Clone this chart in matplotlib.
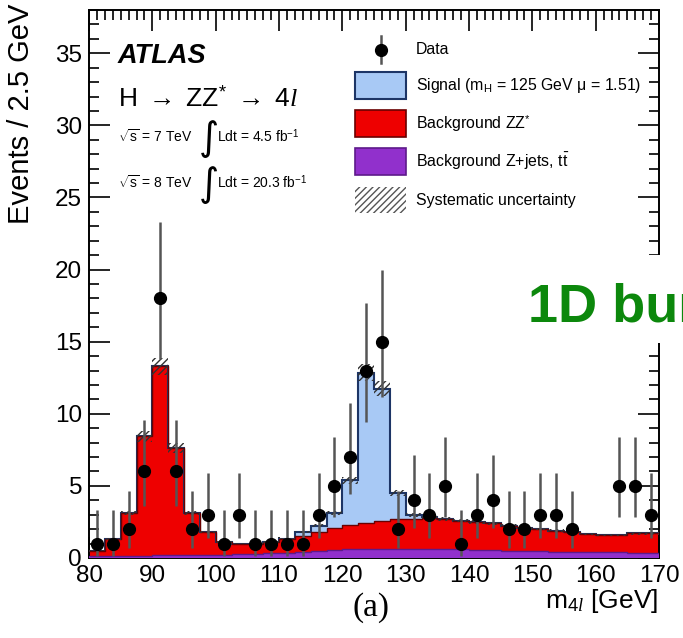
import math
import numpy as np
import matplotlib
matplotlib.use("Agg")
import matplotlib.pyplot as plt
from matplotlib.patches import Rectangle
from matplotlib.lines import Line2D
from matplotlib.ticker import MultipleLocator

plt.rcParams['font.family'] = ['Liberation Sans', 'DejaVu Sans']
plt.rcParams['mathtext.fontset'] = 'custom'
plt.rcParams['mathtext.rm'] = 'Liberation Sans'
plt.rcParams['mathtext.it'] = 'Liberation Serif:italic'
plt.rcParams['mathtext.bf'] = 'Liberation Sans:bold'
plt.rcParams['hatch.linewidth'] = 1.0

W, H = 683, 638

# ---- binning: 2.5 GeV bins from 80 to 170 GeV ----
bin_edges = np.arange(80.0, 170.0 + 1e-9, 2.5)

# observed events per bin
data_counts = [1, 1, 2, 6, 18, 6, 2, 3, 1, 3, 1, 1, 1, 1, 3, 5, 7, 13,
               15, 2, 4, 3, 5, 1, 3, 4, 2, 2, 3, 3, 2, 0, 0, 5, 5, 3]

# expected Z+jets / ttbar background
bkg_zjets = [0.15, 0.15, 0.15, 0.17, 0.18, 0.18, 0.18, 0.20, 0.22, 0.25,
             0.28, 0.32, 0.38, 0.45, 0.52, 0.57, 0.60, 0.62, 0.63, 0.63,
             0.63, 0.62, 0.62, 0.60, 0.58, 0.55, 0.52, 0.50, 0.48, 0.45,
             0.43, 0.42, 0.40, 0.40, 0.38, 0.37]

# expected ZZ* background
bkg_zz = [0.35, 1.15, 2.95, 8.28, 13.12, 7.42, 2.92, 1.60, 0.88, 0.75,
          0.72, 0.78, 0.92, 1.10, 1.28, 1.48, 1.70, 1.83, 1.97, 2.07,
          2.07, 2.13, 2.08, 2.00, 1.92, 1.85, 1.73, 1.60, 1.52, 1.45,
          1.37, 1.23, 1.20, 1.20, 1.32, 1.33]

# expected Higgs signal, m_H = 125 GeV, mu = 1.51
signal = [0, 0, 0, 0, 0, 0, 0, 0, 0, 0,
          0, 0, 0.05, 0.25, 0.45, 1.10, 3.10, 10.40, 9.15, 1.80,
          0.30, 0.10, 0.02, 0, 0, 0, 0, 0, 0, 0,
          0, 0, 0, 0, 0, 0]

syst_frac = 0.045

C_SIG, C_SIG_EDGE = '#a8c9f5', '#1d3566'
C_ZZ, C_ZZ_EDGE = '#ee0000', '#6a0000'
C_ZJ, C_ZJ_EDGE = '#9130cc', '#5e1a8a'
C_ERR = '#555555'


def poisson_cdf(n, mu):
    term = math.exp(-mu)
    total = term
    for k in range(1, n + 1):
        term *= mu / k
        total += term
    return total


def solve(f, lo, hi):
    for _ in range(80):
        mid = 0.5 * (lo + hi)
        if f(mid) > 0:
            lo = mid
        else:
            hi = mid
    return 0.5 * (lo + hi)


def poisson_interval(n, cl=0.158655):
    up = solve(lambda mu: poisson_cdf(n, mu) - cl, 0.0, n + 20.0)
    if n == 0:
        return 0.0, up
    lo = solve(lambda mu: poisson_cdf(n - 1, mu) - (1 - cl), 0.0, n + 20.0)
    return lo, up


def fx(px):
    return px / W


def fy(py):
    return 1 - py / H


zj = np.array(bkg_zjets)
zz = np.array(bkg_zz)
sig = np.array(signal)
counts = np.array(data_counts)
centers = 0.5 * (bin_edges[:-1] + bin_edges[1:])

fig = plt.figure(figsize=(W / 100, H / 100), dpi=100)
ax = fig.add_axes([fx(89), fy(558), 570 / W, 548 / H])

lvl1 = zj
lvl2 = zj + zz
lvl3 = zj + zz + sig

# stacked expectation
ax.stairs(lvl3, bin_edges, baseline=lvl2, fill=True, color=C_SIG, lw=0, zorder=1)
ax.stairs(lvl2, bin_edges, baseline=lvl1, fill=True, color=C_ZZ, lw=0, zorder=2)
ax.stairs(lvl1, bin_edges, baseline=0, fill=True, color=C_ZJ, lw=0, zorder=3)
ax.stairs(lvl3, bin_edges, baseline=None, color=C_SIG_EDGE, lw=1.5, zorder=4)
ax.stairs(lvl2, bin_edges, baseline=None, color=C_ZZ_EDGE, lw=1.0, zorder=4)
ax.stairs(lvl1, bin_edges, baseline=None, color=C_ZJ_EDGE, lw=1.0, zorder=4)

# systematic uncertainty band on the total expectation
ax.stairs(lvl3 * (1 + syst_frac), bin_edges, baseline=lvl3 * (1 - syst_frac),
          fill=True, facecolor='none', edgecolor='#333333', hatch='/////',
          lw=0, zorder=5)

# data with Poisson intervals
mask = counts > 0
lo_err, hi_err = [], []
for n in counts[mask]:
    lo, up = poisson_interval(int(n))
    lo_err.append(n - lo)
    hi_err.append(up - n)
ax.errorbar(centers[mask], counts[mask], yerr=[lo_err, hi_err],
            fmt='o', color='black', ms=8.5, ecolor=C_ERR,
            elinewidth=1.8, capsize=0, zorder=10)

ax.set_xlim(80, 170)
ax.set_ylim(0, 38)
ax.xaxis.set_major_locator(MultipleLocator(10))
ax.xaxis.set_minor_locator(MultipleLocator(1.25))
ax.yaxis.set_major_locator(MultipleLocator(5))
ax.yaxis.set_minor_locator(MultipleLocator(1))
ax.tick_params(which='both', direction='in', top=True, right=True,
               labelsize=17.5, width=1.2, colors='black')
ax.tick_params(which='major', length=15)
ax.tick_params(which='minor', length=7)
ax.tick_params(axis='x', pad=5)
ax.tick_params(axis='y', pad=5)
for s in ax.spines.values():
    s.set_linewidth(1.4)

# axis titles
fig.text(fx(21), fy(4), 'Events / 2.5 GeV', rotation=90,
         ha='center', va='top', fontsize=21)
fig.text(fx(658), fy(608), r'm$_{4\mathit{l}}$ [GeV]', ha='right',
         va='baseline', fontsize=19)
fig.text(fx(371), fy(616), '(a)', ha='center', va='baseline',
         fontsize=24, family='Liberation Serif')


def ptext(px, py, s, **kw):
    kw.setdefault('va', 'baseline')
    fig.text(fx(px), fy(py), s, **kw)


ptext(118, 63, 'ATLAS', fontsize=19.5, fontweight='bold', style='italic')
ptext(118, 107, r'H $\rightarrow$ ZZ$^{*}$ $\rightarrow$ 4$\mathit{l}$',
      fontsize=19)
for yb, rs, lumi in [(142, '7', '4.5'), (188, '8', '20.3')]:
    ptext(118, yb, r'$\sqrt{\rm s}$ = %s TeV' % rs, fontsize=10)
    ptext(199, yb + 8, '\u222b', fontsize=28, family='DejaVu Sans')
    ptext(217, yb, r'Ldt = %s fb$^{-1}$' % lumi, fontsize=10)

# legend, laid out row by row
LEG_FS = 11.4
box_x0, box_x1 = 355, 406
text_x = 416
fig.add_artist(Line2D([fx(380.5), fx(380.5)], [fy(36), fy(63)],
                      color=C_ERR, lw=1.8))
fig.add_artist(Line2D([fx(380.5)], [fy(49.5)], marker='o', ms=8.5,
                      color='black', ls='none'))
ptext(text_x, 49.5, 'Data', fontsize=LEG_FS, va='center')

legend_rows = [
    (72, 99, dict(facecolor=C_SIG, edgecolor=C_SIG_EDGE, lw=1.5),
     'Signal (m$_{\\rm H}$ = 125 GeV \u03bc = 1.51)'),
    (110, 137, dict(facecolor=C_ZZ, edgecolor=C_ZZ_EDGE, lw=1.2),
     r'Background ZZ$^{*}$'),
    (148, 175, dict(facecolor=C_ZJ, edgecolor=C_ZJ_EDGE, lw=1.2),
     r'Background Z+jets, t$\bar{\rm t}$'),
    (187, 213, dict(facecolor='white', edgecolor='#555555', hatch='/////',
                    lw=0),
     'Systematic uncertainty'),
]
for y0, y1, style, label in legend_rows:
    fig.add_artist(Rectangle((fx(box_x0), fy(y1)), (box_x1 - box_x0) / W,
                             (y1 - y0) / H, transform=fig.transFigure,
                             **style))
    ptext(text_x, 0.5 * (y0 + y1), label, fontsize=LEG_FS, va='center')

# slide annotation overlapping the frame
fig.add_artist(Rectangle((fx(515), fy(343)), 168 / W, 88 / H,
                         transform=fig.transFigure, facecolor='white',
                         edgecolor='none', zorder=20))
fig.text(fx(528), fy(322), '1D bump hunt', color='#0c880c',
         fontsize=39, fontweight='bold', va='baseline', zorder=21)

fig.savefig('out.png', dpi=100)
